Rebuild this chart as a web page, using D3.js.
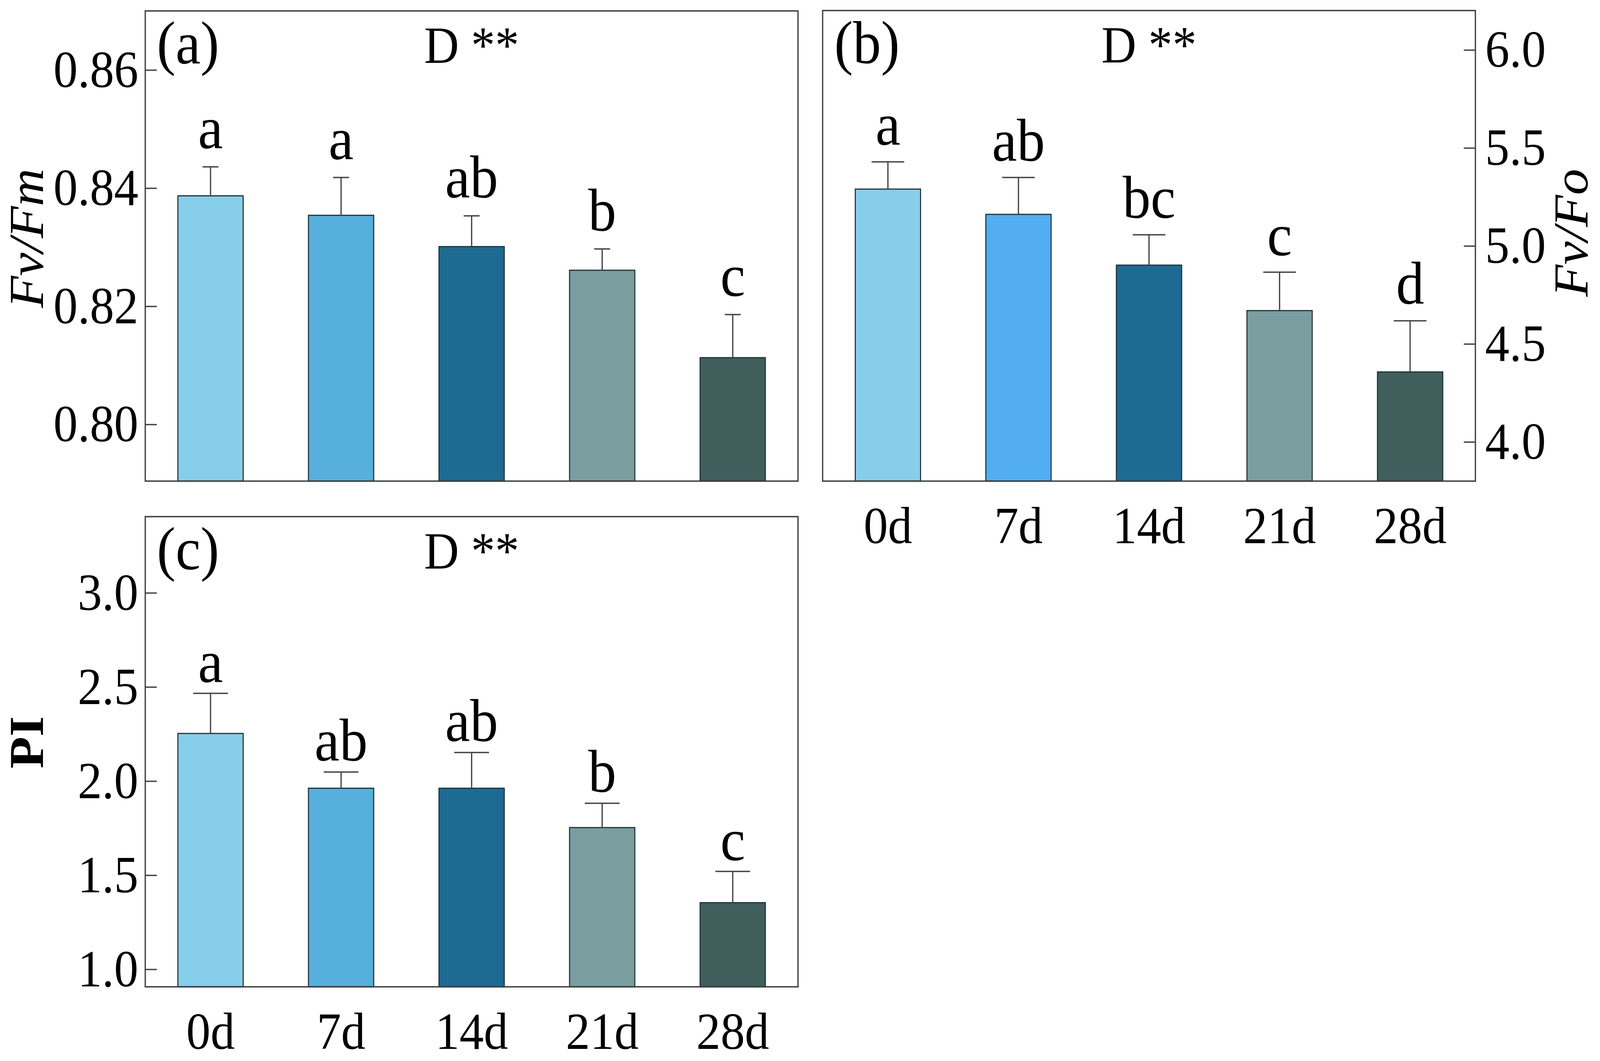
<!DOCTYPE html>
<html lang="en">
<head>
    <meta charset="UTF-8">
    <title>Fv/Fm, Fv/Fo and PI</title>
    <style>
        html, body { margin: 0; padding: 0; background: #fff; overflow: hidden; }
        svg { display: block; }
        text { font-family: "Liberation Serif", "Times New Roman", serif; fill: #000; }
    </style>
</head>
<body>
<script src="https://d3js.org/d3.v7.min.js"></script>
<script>
    // data
    var days = ["0d", "7d", "14d", "21d", "28d"];

    var fvfmMean = [0.8387, 0.8354, 0.8301, 0.8261, 0.8113];
    var fvfmSd = [0.0049, 0.0064, 0.0052, 0.0036, 0.0073];
    var fvfmLetters = ["a", "a", "ab", "b", "c"];
    var fvfmTicks = [0.80, 0.82, 0.84, 0.86];

    var fvfoMean = [5.290, 5.161, 4.902, 4.670, 4.357];
    var fvfoSd = [0.139, 0.188, 0.155, 0.196, 0.261];
    var fvfoLetters = ["a", "ab", "bc", "c", "d"];
    var fvfoTicks = [4.0, 4.5, 5.0, 5.5, 6.0];

    var piMean = [2.253, 1.962, 1.962, 1.753, 1.354];
    var piSd = [0.213, 0.086, 0.190, 0.129, 0.166];
    var piLetters = ["a", "ab", "ab", "b", "c"];
    var piTicks = [1.0, 1.5, 2.0, 2.5, 3.0];

    var coloursA = ["#87ceea", "#56afdc", "#1d6a93", "#7a9e9f", "#3f5e5c"];
    var coloursB = ["#87ceea", "#52aef0", "#1d6a93", "#7a9e9f", "#3f5e5c"];

    // drawn in a 4417 x 2717 box, stretched to fill the window
    var svg = d3.select("body")
        .append("svg")
        .attr("viewBox", "0 0 4417 2717")
        .attr("preserveAspectRatio", "none")
        .attr("width", "100vw")
        .attr("height", "100vh");

    function panel(p) {
        var g = svg.append("g");

        var x = d3.scaleBand()
            .domain(days)
            .range([p.left, p.right])
            .paddingInner(0.5)
            .paddingOuter(0.25);

        var y = d3.scaleLinear()
            .domain(p.domain)
            .range([p.bottom, p.top]);

        // bars
        g.selectAll("rect.bar")
            .data(p.mean)
            .enter()
            .append("rect")
            .attr("class", "bar")
            .attr("x", function(d, i) { return x(days[i]); })
            .attr("width", x.bandwidth())
            .attr("y", function(d) { return y(d); })
            .attr("height", function(d) { return p.bottom - y(d); })
            .attr("fill", function(d, i) { return p.colours[i]; })
            .attr("stroke", "#22343c")
            .attr("stroke-width", 3);

        // error bars, upper half only
        var eb = g.selectAll("g.err")
            .data(p.mean)
            .enter()
            .append("g")
            .attr("class", "err")
            .attr("stroke", "#444")
            .attr("stroke-width", 3.5);

        eb.append("line")
            .attr("x1", function(d, i) { return x(days[i]) + x.bandwidth() / 2; })
            .attr("x2", function(d, i) { return x(days[i]) + x.bandwidth() / 2; })
            .attr("y1", function(d) { return y(d); })
            .attr("y2", function(d, i) { return y(d + p.sd[i]); });

        eb.append("line")
            .attr("x1", function(d, i) { return x(days[i]) + x.bandwidth() / 2 - p.cap / 2; })
            .attr("x2", function(d, i) { return x(days[i]) + x.bandwidth() / 2 + p.cap / 2; })
            .attr("y1", function(d, i) { return y(d + p.sd[i]); })
            .attr("y2", function(d, i) { return y(d + p.sd[i]); });

        // significance letters
        g.selectAll("text.sig")
            .data(p.mean)
            .enter()
            .append("text")
            .attr("class", "sig")
            .attr("x", function(d, i) { return x(days[i]) + x.bandwidth() / 2; })
            .attr("y", function(d, i) { return y(d + p.sd[i]) - p.gap; })
            .attr("text-anchor", "middle")
            .style("font-size", "155px")
            .text(function(d, i) { return p.letters[i]; });

        // y axis, ticks pointing inwards
        var axis = p.side === "right" ? d3.axisRight(y) : d3.axisLeft(y);
        axis.tickValues(p.ticks)
            .tickFormat(d3.format(p.fmt))
            .tickSizeInner(-32)
            .tickSizeOuter(0)
            .tickPadding(p.side === "right" ? 27 : 19);

        var ya = g.append("g")
            .attr("transform", "translate(" + (p.side === "right" ? p.right : p.left) + ",0)")
            .call(axis);
        ya.select(".domain").remove();
        ya.selectAll(".tick line").attr("stroke", "#444").attr("stroke-width", 3.5);
        ya.selectAll(".tick text")
            .style("font-size", "134px")
            .style("font-family", "Liberation Serif, serif");

        if (p.xlabels) {
            var xa = g.append("g")
                .attr("transform", "translate(0," + p.bottom + ")")
                .call(d3.axisBottom(x).tickSize(0).tickPadding(64));
            xa.select(".domain").remove();
            xa.selectAll(".tick text")
                .style("font-size", "134px")
                .style("font-family", "Liberation Serif, serif");
        }

        // frame
        g.append("rect")
            .attr("x", p.left)
            .attr("y", p.top)
            .attr("width", p.right - p.left)
            .attr("height", p.bottom - p.top)
            .attr("fill", "none")
            .attr("stroke", "#3c3c3c")
            .attr("stroke-width", 3.5);

        // panel tag and factor note
        g.append("text")
            .attr("x", p.left + 32)
            .attr("y", p.top + 134)
            .style("font-size", "155px")
            .text(p.tag);

        g.append("text")
            .attr("x", (p.left + p.right) / 2)
            .attr("y", p.top + 133)
            .attr("text-anchor", "middle")
            .style("font-size", "133px")
            .text("D **");

        // axis title
        var title = g.append("text")
            .attr("transform", "translate(" + p.titleX + "," + p.titleY + ") rotate(-90)")
            .attr("text-anchor", "middle")
            .attr("dy", "0.35em")
            .style("font-size", "134px");
        if (p.bold) title.style("font-weight", "bold");
        if (p.italic) title.style("font-style", "italic");
        title.text(p.title);
    }

    panel({
        left: 401, right: 2203, top: 28, bottom: 1232,
        domain: [0.7904, 0.8700],
        mean: fvfmMean, sd: fvfmSd, letters: fvfmLetters, ticks: fvfmTicks,
        colours: coloursA, fmt: ".2f", side: "left", cap: 44, gap: 48,
        tag: "(a)", title: "Fv/Fm", italic: true, titleX: 72, titleY: 610,
        xlabels: false
    });

    panel({
        left: 2271, right: 4073, top: 27, bottom: 1232,
        domain: [3.800, 6.201],
        mean: fvfoMean, sd: fvfoSd, letters: fvfoLetters, ticks: fvfoTicks,
        colours: coloursB, fmt: ".1f", side: "right", cap: 90, gap: 44,
        tag: "(b)", title: "Fv/Fo", italic: true, titleX: 4336, titleY: 596,
        xlabels: true
    });

    panel({
        left: 401, right: 2203, top: 1323, bottom: 2527,
        domain: [0.907, 3.405],
        mean: piMean, sd: piSd, letters: piLetters, ticks: piTicks,
        colours: coloursA, fmt: ".1f", side: "left", cap: 96, gap: 30,
        tag: "(c)", title: "PI", bold: true, titleX: 72, titleY: 1901,
        xlabels: true
    });
</script>
</body>
</html>
